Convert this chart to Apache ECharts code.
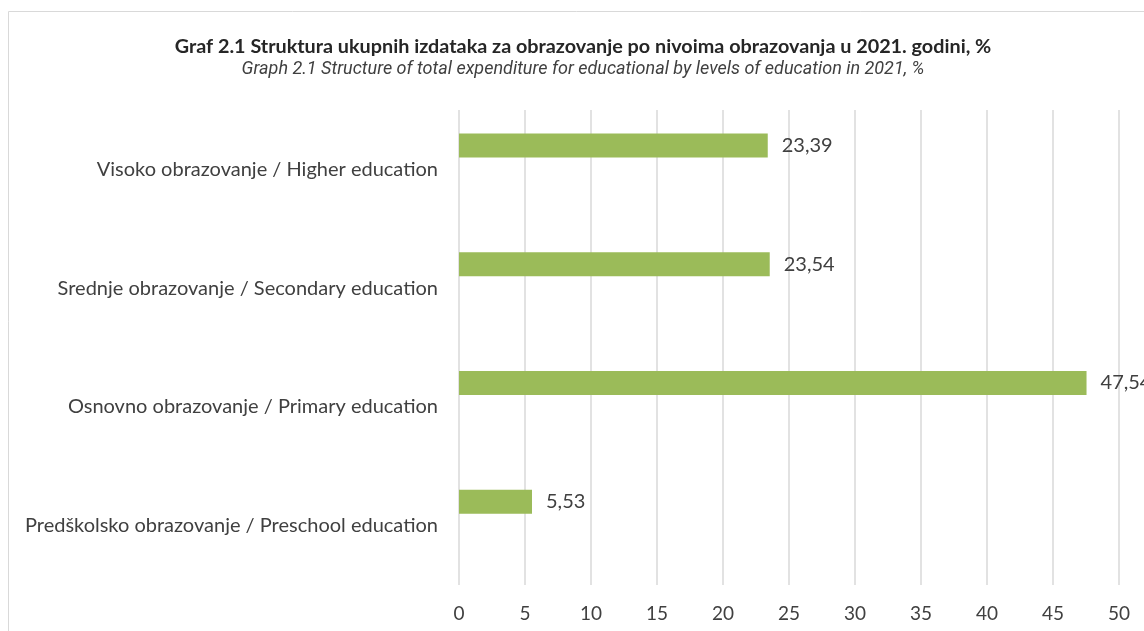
<!DOCTYPE html>
<html>
<head>
<meta charset="utf-8">
<script src="https://cdn.jsdelivr.net/npm/echarts@6/dist/echarts.min.js"></script>
<style>html,body{margin:0;padding:0;background:#fff}#c{width:1144px;height:631px}</style>
</head>
<body>
<div id="c"></div>
<script>
const titleText = 'Graf 2.1 Struktura ukupnih izdataka za obrazovanje po nivoima obrazovanja u 2021. godini, %';
const subtitleText = 'Graph 2.1 Structure of total expenditure for educational by levels of education in 2021, %';
const categories = [
  'Predškolsko obrazovanje / Preschool education',
  'Osnovno obrazovanje / Primary education',
  'Srednje obrazovanje / Secondary education',
  'Visoko obrazovanje / Higher education'
];
const values = [5.53, 47.54, 23.54, 23.39];
const emptyValues = [null, null, null, null];
const xTicks = {min: 0, max: 50, interval: 5};

const chart = echarts.init(document.getElementById('c'));
chart.setOption({
  animation: false,
  graphic: [{
    type: 'rect', shape: {x: 8.5, y: 11.5, width: 1200, height: 700},
    style: {fill: 'none', stroke: '#d9d9d9', lineWidth: 1}, silent: true
  }],
  title: {
    text: titleText, subtext: subtitleText, left: 578, top: 32, textAlign: 'center',
    itemGap: 3,
    textStyle: {fontFamily: 'Lato', fontWeight: 'bold', fontSize: 19.8, color: '#262626'},
    subtextStyle: {fontFamily: 'Roboto', fontStyle: 'italic', fontSize: 18, color: '#404040'}
  },
  grid: {left: 459, right: 25, top: 110, bottom: 46, containLabel: false},
  xAxis: {
    type: 'value', min: xTicks.min, max: xTicks.max, interval: xTicks.interval,
    axisLine: {show: false}, axisTick: {show: false},
    splitLine: {lineStyle: {color: '#d9d9d9', width: 1.5}},
    axisLabel: {margin: 19, color: '#404040', fontSize: 19, fontFamily: 'Lato'}
  },
  yAxis: {
    type: 'category', data: categories,
    axisLine: {show: false}, axisTick: {show: false},
    axisLabel: {margin: 21, color: '#404040', fontSize: 20, fontFamily: 'Lato'}
  },
  series: [
    {
      type: 'bar', data: values, barWidth: 24, barGap: '100%',
      itemStyle: {color: '#9bbb59'},
      label: {show: true, position: 'right', distance: 14, color: '#404040', fontSize: 20,
        fontFamily: 'Lato', formatter: p => p.value.toFixed(2).replace('.', ',')}
    },
    {type: 'bar', data: emptyValues, barWidth: 24, itemStyle: {color: '#9bbb59'}}
  ]
});
</script>
</body>
</html>
